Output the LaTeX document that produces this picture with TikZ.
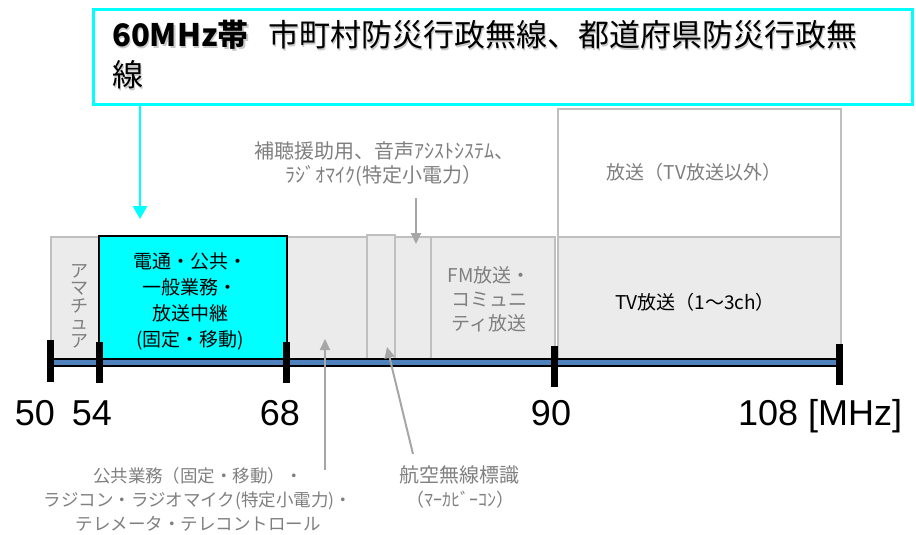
\documentclass[tikz,border=0pt]{standalone}
\usepackage{fontspec}
\setmainfont{Noto Sans CJK JP}
\newfontfamily\arialf{Liberation Sans}
\usetikzlibrary{arrows.meta}
\definecolor{cyanc}{HTML}{00FFFF}
\definecolor{txtgray}{HTML}{7F7F7F}
\definecolor{bordergray}{HTML}{BFBFBF}
\definecolor{fillgray}{HTML}{EBEBEB}
\definecolor{arrowgray}{HTML}{A6A6A6}
\definecolor{barblue}{HTML}{4F81BD}
\begin{document}
\begin{tikzpicture}[x=1pt,y=-1pt,
  band/.style={draw=bordergray, line width=1.5pt, fill=fillgray, anchor=north west, inner sep=0pt},
  tickmark/.style={fill=black, inner sep=0pt, minimum width=7pt, anchor=north},
  graytxt/.style={text=txtgray, align=center, inner sep=0pt},
  blacktxt/.style={text=black, align=center, inner sep=0pt},
  numlbl/.style={anchor=base, inner sep=0pt, font=\arialf\fontsize{36}{40}\selectfont},
  grayarrow/.style={draw=arrowgray, line width=2pt, -{Triangle[length=11pt,width=10pt]}},
  titletxt/.style={anchor=base west, inner sep=0pt, font=\fontsize{31}{36}\selectfont}
]
\useasboundingbox (0,0) rectangle (916,535);

% title box
\node[draw=cyanc, line width=3pt, fill=white, anchor=north west, minimum width=819pt, minimum height=95pt, inner sep=0pt] (title) at (92,8) {};
\node[titletxt, text=black!35, opacity=0.6] (t1s) at (113.5,48.5) {\bfseries 60MHz帯};
\node[titletxt, text=black!35, opacity=0.6] (t2s) at (269.5,48.5) {市町村防災行政無線、都道府県防災行政無};
\node[titletxt, text=black!35, opacity=0.6] (t3s) at (113.5,88.5) {線};
\node[titletxt] (t1) at (112,47) {\bfseries 60MHz帯};
\node[titletxt] (t2) at (268,47) {市町村防災行政無線、都道府県防災行政無};
\node[titletxt] (t3) at (112,87) {線};

% bands
\node[band, minimum width=48pt, minimum height=124pt] (ama) at (50,236) {};
\node[band, minimum width=80pt, minimum height=124pt] (g1) at (286,236) {};
\node[band, minimum width=28pt, minimum height=126pt] (g2) at (366,234) {};
\node[band, minimum width=36pt, minimum height=124pt] (g3) at (394,236) {};
\node[band, minimum width=124pt, minimum height=124pt] (fm) at (430,236) {};
\node[band, minimum width=283pt, minimum height=122pt] (tv) at (557,236) {};
\node[band, fill=white, minimum width=283pt, minimum height=128pt] (bc) at (557,108) {};
\node[draw=black, line width=2pt, fill=cyanc, anchor=north west, minimum width=188pt, minimum height=125pt, inner sep=0pt] (cy) at (98,235) {};

% band texts
\node[graytxt, font=\fontsize{18}{17.5}\selectfont] (amatxt) at (79,306) {ア\\マ\\チ\\ュ\\ア};
\node[blacktxt, font=\fontsize{19}{26}\selectfont] (cytxt) at (190,301) {電通・公共・\\一般業務・\\放送中継\\(固定・移動)};
\node[graytxt, font=\fontsize{19}{24}\selectfont] (fmtxt) at (489,299) {FM放送・\\コミュニ\\ティ放送};
\node[blacktxt, font=\fontsize{19}{24}\selectfont] (tvtxt) at (695,302) {TV放送（1〜3ch）};
\node[graytxt, font=\fontsize{19}{24}\selectfont] (bctxt) at (694,172) {放送（TV放送以外）};

% axis bar
\draw[fill=barblue, draw=black, line width=1.5pt] (50,359) rectangle (838,366);
\node[tickmark, minimum height=42pt] (k50) at (50,340) {};
\node[tickmark, minimum height=41pt] (k54) at (99,342) {};
\node[tickmark, minimum height=41pt] (k68) at (286,342) {};
\node[tickmark, minimum height=41pt] (k90) at (554,346) {};
\node[tickmark, minimum height=41pt] (k108) at (839,344) {};

% axis labels
\node[numlbl] (n50) at (35,425) {50};
\node[numlbl] (n54) at (92,425) {54};
\node[numlbl] (n68) at (280,425) {68};
\node[numlbl] (n90) at (551,425) {90};
\node[numlbl, anchor=base west] (n108) at (738,425) {108 [MHz]};

% cyan arrow
\coordinate (cytip) at (140,219);
\draw[draw=cyanc, line width=2.5pt, -{Triangle[length=13pt,width=14pt]}] (title.south -| cytip) -- (cytip);

% top annotation
\node[graytxt, font=\fontsize{20}{24}\selectfont] (hochou) at (384,164) {補聴援助用、音声ｱｼｽﾄｼｽﾃﾑ、\\ﾗｼﾞｵﾏｲｸ(特定小電力）};
\coordinate (hs) at (416,198);
\coordinate (ht) at (416,244);
\draw[grayarrow] (hs) -- (ht);

% bottom annotations
\node[graytxt, font=\fontsize{17.5}{24}\selectfont] (pub) at (198,499) {公共業務（固定・移動）・\\ラジコン・ラジオマイク(特定小電力)・\\テレメータ・テレコントロール};
\coordinate (ps) at (325,470);
\coordinate (pt) at (325,339);
\draw[grayarrow] (ps) -- (pt);

\node[graytxt, font=\fontsize{20}{24}\selectfont] (kouku) at (459,475) {航空無線標識};
\node[graytxt, font=\fontsize{18}{24}\selectfont] (marker) at (460,500) {（ﾏｰｶﾋﾞｰｺﾝ）};
\coordinate (ks) at (413,454);
\coordinate (kt) at (387,347);
\draw[grayarrow] (ks) -- (kt);
\end{tikzpicture}
\end{document}
